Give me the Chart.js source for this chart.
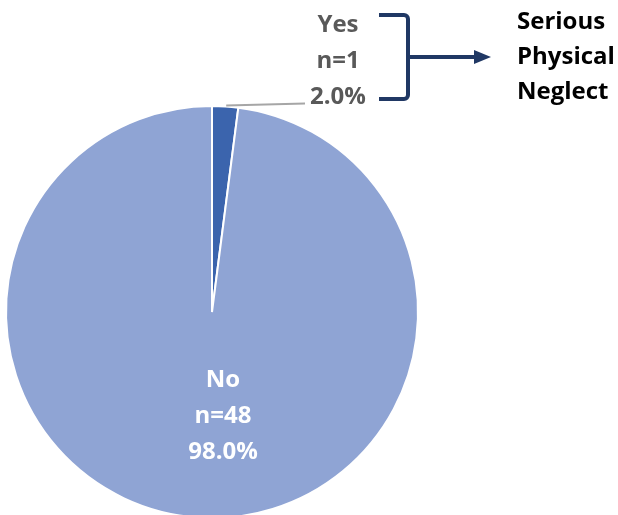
<!DOCTYPE html>
<html>
<head>
<meta charset="utf-8">
<script src="https://cdn.jsdelivr.net/npm/chart.js@4"></script>
<style>
  html, body { margin: 0; padding: 0; background: #fff; overflow: hidden; }
  #wrap { width: 618px; height: 515px; overflow: hidden; }
</style>
</head>
<body>
<div id="wrap"><canvas id="pie-chart" width="618" height="524"></canvas></div>
<script>
const categories = ["Yes", "No"];
const counts = [1, 48];
const percents = [2.0, 98.0];
const groupTitle = ["Serious", "Physical", "Neglect"];
const sliceColors = ["#3B64AD", "#8FA4D4"];

const FONT = "bold 24px 'Open Sans'";

// labels, leader line and bracket are drawn after the pie
const annotate = {
  id: "annotate",
  afterDraw(chart) {
    const ctx = chart.ctx;
    const arcs = chart.getDatasetMeta(0).data;
    const yes = arcs[0];
    const cx = yes.x, cy = yes.y, r = yes.outerRadius;
    const lineH = 36;

    ctx.save();
    ctx.font = FONT;
    ctx.textAlign = "center";
    ctx.textBaseline = "middle";

    // No label inside the big slice
    const noLines = [categories[1], "n=" + counts[1], percents[1].toFixed(1) + "%"];
    ctx.fillStyle = "#ffffff";
    noLines.forEach((t, i) => ctx.fillText(t, cx + 11, cy + 68 + i * lineH));

    // leader line from the small slice
    const mid = (yes.startAngle + yes.endAngle) / 2;
    const ex = cx + Math.cos(mid) * r, ey = cy + Math.sin(mid) * r;
    ctx.strokeStyle = "#A6A6A6";
    ctx.lineWidth = 2;
    ctx.beginPath();
    ctx.moveTo(ex + 1, ey - 1);
    ctx.lineTo(cx + 93, ey - 3);
    ctx.stroke();

    // Yes label
    const yesLines = [categories[0], "n=" + counts[0], percents[0].toFixed(1) + "%"];
    ctx.fillStyle = "#595959";
    yesLines.forEach((t, i) => ctx.fillText(t, cx + 126, 25 + i * lineH));

    // bracket + arrow
    const bx = cx + 196, top = 15, bot = 99, midY = 57, rr = 4;
    ctx.strokeStyle = "#203864";
    ctx.lineWidth = 4;
    ctx.beginPath();
    ctx.moveTo(bx - 29, top);
    ctx.arcTo(bx, top, bx, top + rr, rr);
    ctx.arcTo(bx, bot, bx - rr, bot, rr);
    ctx.lineTo(bx - 29, bot);
    ctx.stroke();
    ctx.beginPath();
    ctx.moveTo(bx, midY);
    ctx.lineTo(bx + 68, midY);
    ctx.stroke();
    ctx.fillStyle = "#203864";
    ctx.beginPath();
    ctx.moveTo(bx + 83, midY);
    ctx.lineTo(bx + 66, midY - 7);
    ctx.lineTo(bx + 66, midY + 7);
    ctx.closePath();
    ctx.fill();

    // group title
    ctx.fillStyle = "#000000";
    ctx.textAlign = "left";
    groupTitle.forEach((t, i) => ctx.fillText(t, bx + 109, 22 + i * 35));
    ctx.restore();
  },
};

new Chart(document.getElementById("pie-chart"), {
  type: "pie",
  data: {
    labels: categories,
    datasets: [
      {
        data: counts,
        backgroundColor: sliceColors,
        borderColor: "#ffffff",
        borderWidth: 2,
      },
    ],
  },
  options: {
    responsive: false,
    animation: false,
    layout: { padding: { left: 5, right: 199, top: 105, bottom: 5 } },
    plugins: {
      legend: { display: false },
      tooltip: { enabled: false },
    },
  },
  plugins: [annotate],
});
</script>
</body>
</html>
